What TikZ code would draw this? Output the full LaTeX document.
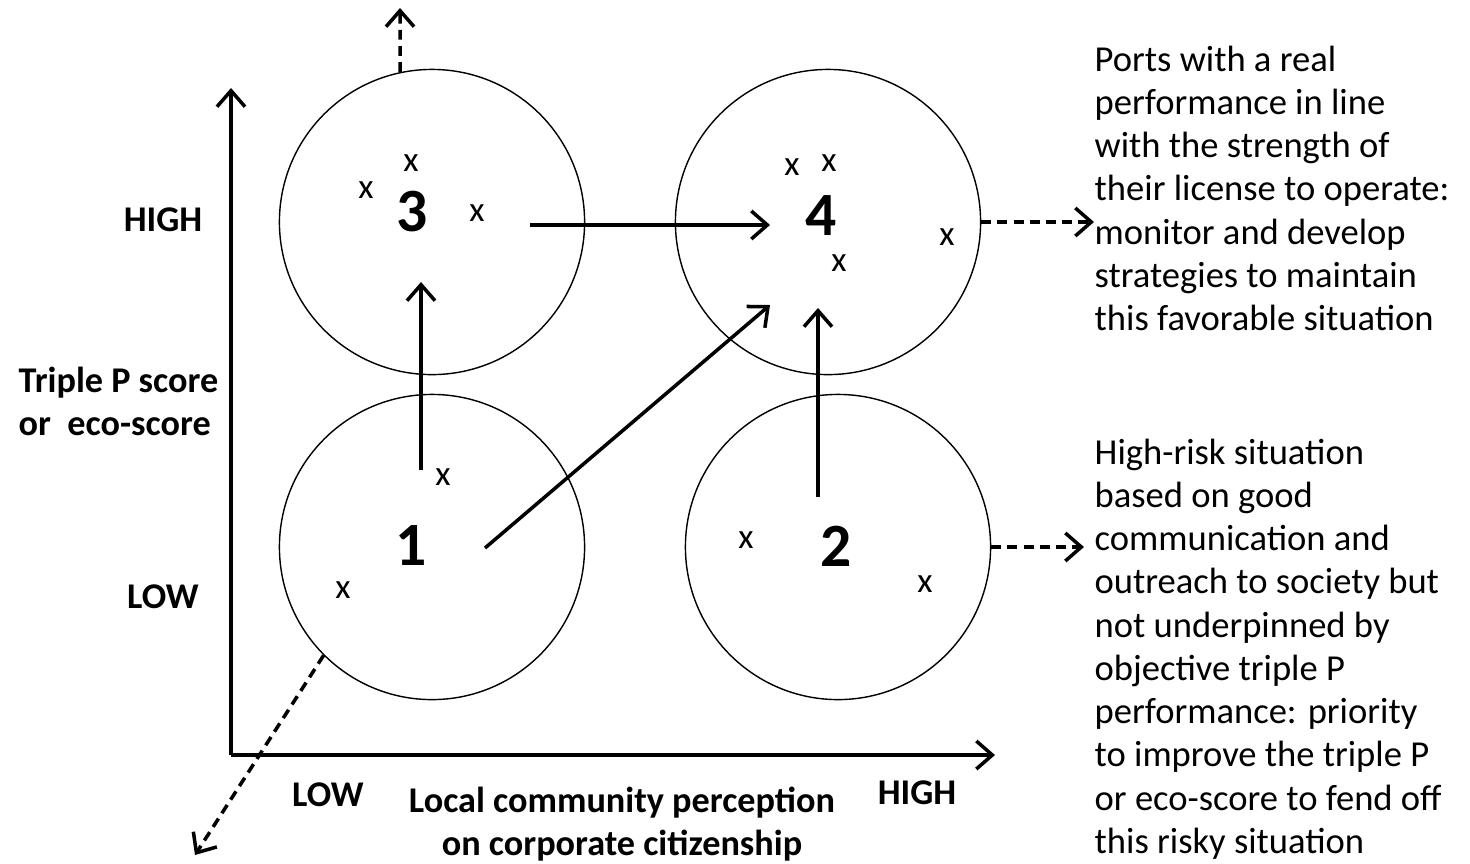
\documentclass[tikz,border=0pt]{standalone}
\usepackage{fontspec}
\setmainfont{Carlito}
\usetikzlibrary{
  arrows.meta,
  positioning,
  calc
}
\newcommand{\qCircle}[3]{\node[quadrant] (q#1) at (#2) {}; \node[quadnum] (n#1) at (#3) {#1};}
\newcommand{\qCross}[2]{\node[cross] (#1) at (#2) {x};}
\tikzset{
  quadrant/.style={
    circle,
    draw,
    thin,
    inner sep = 0pt,
    minimum size = 3.05cm
  },
  quadnum/.style={font=\fontsize{17.5}{20}\selectfont\bfseries, inner sep=0pt},
  cross/.style={font=\fontsize{10}{12}\selectfont, inner sep=0pt},
  axislabel/.style={font=\fontsize{10.3}{12.2}\selectfont\bfseries, inner sep=0pt},
  note/.style={font=\fontsize{10.4}{12.3}\selectfont, align=left, inner sep=0pt, anchor=north west},
  move/.style={-{Straight Barb[length=1.6mm, width=2.8mm]}, line width=1pt},
  escape/.style={move, dash pattern=on 2.8pt off 1.8pt}
}

\begin{document}
\begin{tikzpicture}[x=0.01cm, y=-0.01cm]
  \useasboundingbox (0,0) rectangle (1470,863);

  % axes
  \coordinate (O) at (231,755);
  \coordinate (ytop) at (231,88);
  \coordinate (xend) at (995,755);
  \draw[move] (O) -- (ytop);
  \draw[move] (O) -- (xend);

  \node[axislabel] (yhigh) at (163,220) {HIGH};
  \node[axislabel] (ylow)  at (163,597) {LOW};
  \node[axislabel] (xlow)  at (328,795) {LOW};
  \node[axislabel] (xhigh) at (917,793) {HIGH};
  \node[axislabel, align=left, anchor=north west] (ytitle) at (18,366)
    {Triple P score\\or\ \ eco-score};
  \node[axislabel, align=center, anchor=north] (xtitle) at (622,786)
    {Local community perception\\on corporate citizenship};

  % quadrants
  \qCircle{3}{432,222}{412,212}
  \qCircle{4}{828,222}{821,216}
  \qCircle{1}{432,547}{411,546}
  \qCircle{2}{838,547}{836,546}

  \qCross{x3a}{411,163}
  \qCross{x3b}{366,190}
  \qCross{x3c}{477,213}
  \qCross{x4a}{792,167}
  \qCross{x4b}{829,163}
  \qCross{x4c}{947,237}
  \qCross{x4d}{839,263}
  \qCross{x1a}{443,477}
  \qCross{x1b}{343,590}
  \qCross{x2a}{746,540}
  \qCross{x2b}{925,584}

  % moves between quadrants
  \coordinate (m34s) at (530,225);
  \coordinate (m34e) at (770,225);
  \coordinate (m13s) at (421,470);
  \coordinate (m13e) at (421,282);
  \coordinate (m14s) at (485,548);
  \coordinate (m14e) at (770,305);
  \coordinate (m24s) at (818,497);
  \coordinate (m24e) at (818,308);
  \draw[move] (m34s) -- (m34e);
  \draw[move] (m13s) -- (m13e);
  \draw[move] (m14s) -- (m14e);
  \draw[move] (m24s) -- (m24e);

  % notes
  \node[note] (note4) at (1094,45)
    {Ports with a real\\performance in line\\with the strength of\\their license to operate:\\monitor and develop\\strategies to maintain\\this favorable situation};
  \node[note] (note2) at (1094,438)
    {High-risk situation\\based on good\\communication and\\outreach to society but\\not underpinned by\\objective triple P\\performance: priority\\to improve the triple P\\or eco-score to fend off\\this risky situation};

  \coordinate (up3) at (400,8);
  \coordinate (out1) at (195,855);
  \draw[escape] (q3.102) -- (up3);
  \draw[escape] (q1.225) -- (out1);
  \draw[escape] (q4.east) -- (note4.west |- q4.east);
  \draw[escape] (q2.east) -- ([xshift=-0.1cm]note2.west |- q2.east);
\end{tikzpicture}
\end{document}
